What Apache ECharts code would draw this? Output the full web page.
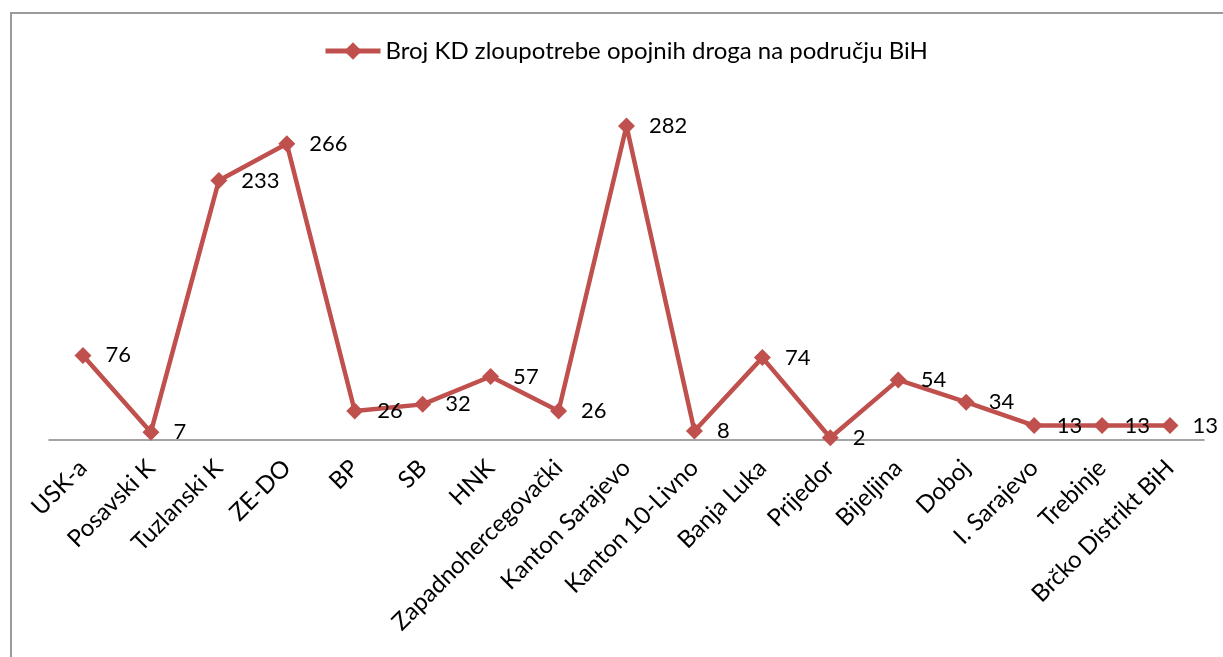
<!DOCTYPE html>
<html>
<head>
<meta charset="utf-8">
<script src="https://cdn.jsdelivr.net/npm/echarts@6/dist/echarts.min.js"></script>
<style>
  html, body { margin: 0; padding: 0; background: #fff; }
  #frame { position: absolute; left: 10px; top: 12px; width: 1240px; height: 700px; border-left: 2px solid #9a9a9a; border-top: 2px solid #9a9a9a; }
  #main { position: absolute; left: 0; top: 0; width: 1223px; height: 657px; }
</style>
</head>
<body>
<div id="frame"></div>
<div id="main"></div>
<script>
// 区域名称
const categories = ['USK-a', 'Posavski K', 'Tuzlanski K', 'ZE-DO', 'BP', 'SB', 'HNK', 'Zapadnohercegovački',
  'Kanton Sarajevo', 'Kanton 10-Livno', 'Banja Luka', 'Prijedor', 'Bijeljina', 'Doboj', 'I. Sarajevo', 'Trebinje', 'Brčko Distrikt BiH'];
// 数值
const values = [76, 7, 233, 266, 26, 32, 57, 26, 282, 8, 74, 2, 54, 34, 13, 13, 13];
const seriesName = 'Broj KD zloupotrebe opojnih droga na području BiH';

const font = 'Lato, "Open Sans", sans-serif';
let myChart = echarts.init(document.getElementById('main'));
let option = {
  color: ['#C0504D'],
  textStyle: { fontFamily: font },
  legend: {
    top: 34,
    left: 318,
    itemWidth: 55,
    itemHeight: 22,
    lineStyle: { width: 5 },
    textStyle: { fontSize: 24, color: '#000', fontFamily: font },
    data: [seriesName]
  },
  grid: { left: 49, right: 19, top: 106, bottom: 217, containLabel: false },
  xAxis: {
    type: 'category',
    data: categories,
    axisLine: { lineStyle: { color: '#868686', width: 1.5 } },
    axisTick: { show: false },
    axisLabel: { rotate: 45, fontSize: 24, color: '#000', margin: 24, interval: 0, fontFamily: font }
  },
  yAxis: {
    type: 'value',
    min: 0,
    max: 300,
    show: false,
    splitLine: { show: false }
  },
  series: [{
    name: seriesName,
    type: 'line',
    data: values,
    symbol: 'diamond',
    symbolSize: 17,
    lineStyle: { width: 4.5 },
    label: { show: true, position: 'right', distance: 14, fontSize: 22, color: '#000', fontFamily: font }
  }]
};
myChart.setOption(option);
</script>
</body>
</html>
